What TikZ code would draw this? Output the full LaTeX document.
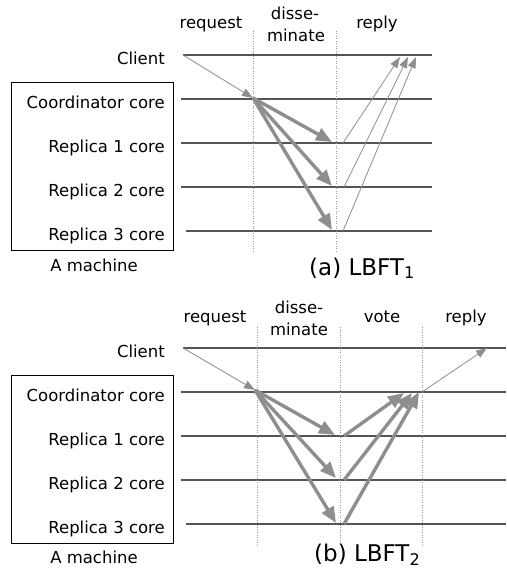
\documentclass[tikz,border=0pt]{standalone}
\usepackage{fontspec}
\setmainfont{DejaVu Sans}
\usetikzlibrary{arrows.meta}
\definecolor{linegray}{HTML}{555555}
\definecolor{arrgray}{HTML}{8E8E8E}
\definecolor{dotgray}{HTML}{9A9A9A}
\begin{document}
\begin{tikzpicture}[x=1pt,y=-1pt, font=\fontsize{16.5}{18}\selectfont,
 lane/.style={draw=linegray, line width=1.2pt},
 sep/.style={draw=dotgray, line width=0.9pt, dash pattern=on 0.9pt off 1.6pt},
 thinarr/.style={draw=arrgray, line width=0.8pt, -{Triangle[length=11pt,width=8pt]}},
 thickarr/.style={draw=arrgray, line width=3.4pt, -{Triangle[length=16pt,width=13pt]}},
 lbl/.style={anchor=base east, inner sep=0pt},
 hdr/.style={anchor=base, inner sep=0pt},
 machine/.style={draw=black, line width=0.8pt, anchor=north west, inner sep=0pt, minimum width=162pt, minimum height=168pt},
 captxt/.style={anchor=base west, inner sep=0pt, font=\fontsize{23}{26}\selectfont}
 ]
\useasboundingbox (0,0) rectangle (506,569);

% ================= panel (a) =================
\node[hdr] (ha1) at (211,29) {request};
\node[hdr] (ha2) at (295,20) {disse-};
\node[hdr] (ha3) at (296,42) {minate};
\node[hdr] (ha4) at (377,29) {reply};

\node[machine] (ma) at (11,82) {};
\node[lbl] (cla) at (165,64.5) {Client};
\node[lbl] (coa) at (165,108.5) {Coordinator core};
\node[lbl] (r1a) at (165,152.5) {Replica 1 core};
\node[lbl] (r2a) at (165,196.5) {Replica 2 core};
\node[lbl] (r3a) at (165,240.5) {Replica 3 core};
\node[hdr] (ama) at (94,271) {A machine};
\node[captxt] (capa) at (309,275) {(a) LBFT\textsubscript{1}};

\coordinate (la0s) at (183,55);  \coordinate (la0e) at (432,55);
\coordinate (la1s) at (181,99);  \coordinate (la1e) at (432,99);
\coordinate (la2s) at (181,143); \coordinate (la2e) at (432,143);
\coordinate (la3s) at (181,187); \coordinate (la3e) at (432,187);
\coordinate (la4s) at (186,231); \coordinate (la4e) at (432,231);
\foreach \i in {0,...,4} \draw[lane] (la\i s) -- (la\i e);

\coordinate (da1s) at (253,31); \coordinate (da1e) at (253,253);
\coordinate (da2s) at (336,31); \coordinate (da2e) at (336,253);
\draw[sep] (da1s) -- (da1e);
\draw[sep] (da2s) -- (da2e);

\coordinate (qa) at (253,98);
\draw[thinarr] (la0s) -- (qa);
\coordinate (ta1) at (332,142); \coordinate (ta2) at (332,186); \coordinate (ta3) at (332,230);
\draw[thickarr] (qa) -- (ta1);
\draw[thickarr] (qa) -- (ta2);
\draw[thickarr] (qa) -- (ta3);
\coordinate (sa1) at (343,143); \coordinate (sa2) at (344,187); \coordinate (sa3) at (343,231);
\coordinate (ea1) at (400,57); \coordinate (ea2) at (408,57); \coordinate (ea3) at (416,57);
\draw[thinarr] (sa1) -- (ea1);
\draw[thinarr] (sa2) -- (ea2);
\draw[thinarr] (sa3) -- (ea3);

% ================= panel (b) =================
\node[hdr] (hb1) at (215,322) {request};
\node[hdr] (hb2) at (299,313) {disse-};
\node[hdr] (hb3) at (299,335) {minate};
\node[hdr] (hb4) at (382,322) {vote};
\node[hdr] (hb5) at (466,322) {reply};

\node[machine] (mb) at (11,375) {};
\node[lbl] (clb) at (165,357.5) {Client};
\node[lbl] (cob) at (165,401.5) {Coordinator core};
\node[lbl] (r1b) at (165,445.5) {Replica 1 core};
\node[lbl] (r2b) at (165,489.5) {Replica 2 core};
\node[lbl] (r3b) at (165,533.5) {Replica 3 core};
\node[hdr] (amb) at (94,563) {A machine};
\node[captxt] (capb) at (314,561.5) {(b) LBFT\textsubscript{2}};

\coordinate (lb0s) at (183,348); \coordinate (lb0e) at (506,348);
\coordinate (lb1s) at (181,392); \coordinate (lb1e) at (506,392);
\coordinate (lb2s) at (181,436); \coordinate (lb2e) at (506,436);
\coordinate (lb3s) at (181,480); \coordinate (lb3e) at (506,480);
\coordinate (lb4s) at (186,524); \coordinate (lb4e) at (506,524);
\foreach \i in {0,...,4} \draw[lane] (lb\i s) -- (lb\i e);

\coordinate (db1s) at (257,327); \coordinate (db1e) at (257,547);
\coordinate (db2s) at (340,327); \coordinate (db2e) at (340,547);
\coordinate (db3s) at (422,327); \coordinate (db3e) at (422,547);
\draw[sep] (db1s) -- (db1e);
\draw[sep] (db2s) -- (db2e);
\draw[sep] (db3s) -- (db3e);

\coordinate (qb) at (255,390);
\draw[thinarr] (lb0s) -- (qb);
\coordinate (tb1) at (335,435); \coordinate (tb2) at (336,478); \coordinate (tb3) at (336,523);
\draw[thickarr] (qb) -- (tb1);
\draw[thickarr] (qb) -- (tb2);
\draw[thickarr] (qb) -- (tb3);
\coordinate (sb1) at (344,436); \coordinate (sb2) at (344,480); \coordinate (sb3) at (344,524);
\coordinate (vb1) at (404,393); \coordinate (vb2) at (412,393); \coordinate (vb3) at (419,392);
\draw[thickarr] (sb1) -- (vb1);
\draw[thickarr] (sb2) -- (vb2);
\draw[thickarr] (sb3) -- (vb3);
\coordinate (rb0) at (422,392); \coordinate (rb1) at (487,348);
\draw[thinarr] (rb0) -- (rb1);
\end{tikzpicture}
\end{document}
